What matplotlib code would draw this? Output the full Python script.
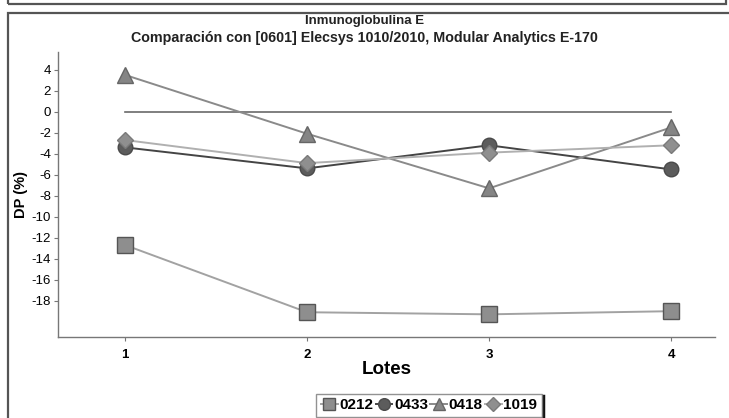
import numpy as np
import matplotlib.pyplot as plt
from matplotlib.lines import Line2D
from matplotlib.patches import Rectangle

plt.rcParams['font.family'] = ['Liberation Sans', 'DejaVu Sans']

lotes = [1, 2, 3, 4]
series_names = ['0212', '0433', '0418', '1019']
dp_0212 = [-12.7, -19.1, -19.3, -19.0]
dp_0433 = [-3.4, -5.4, -3.2, -5.5]
dp_0418 = [3.5, -2.1, -7.3, -1.5]
dp_1019 = [-2.7, -4.9, -3.9, -3.2]
y_ticks = list(range(-18, 5, 2))

styles = {
    '0212': dict(marker='s', markersize=11.5, color='#a2a2a2', markerfacecolor='#8e8e8e', markeredgecolor='#555555'),
    '0433': dict(marker='o', markersize=10.5, color='#444444', markerfacecolor='#5c5c5c', markeredgecolor='#4a4a4a'),
    '0418': dict(marker='^', markersize=11, color='#8a8a8a', markerfacecolor='#858585', markeredgecolor='#666666'),
    '1019': dict(marker='D', markersize=8.5, color='#b0b0b0', markerfacecolor='#8f8f8f', markeredgecolor='#7a7a7a'),
}
values = {'0212': dp_0212, '0433': dp_0433, '0418': dp_0418, '1019': dp_1019}

fig = plt.figure(figsize=(7.29, 4.18), dpi=100)
ax = fig.add_axes([0.0796, 0.194, 0.901, 0.682])

# reference line at zero
ax.plot([lotes[0], lotes[-1]], [0, 0], color='#6a6a6a', linewidth=1.2, zorder=1)

handles = []
for name in series_names:
    st = styles[name]
    h, = ax.plot(lotes, values[name], linewidth=1.4, markeredgewidth=1.0, label=name, zorder=3, **st)
    handles.append(h)

ax.set_xlim(0.632, 4.24)
ax.set_ylim(-21.45, 5.7)
ax.set_xticks(lotes)
ax.set_xticklabels([str(l) for l in lotes], fontweight='bold', fontsize=9.5)
ax.set_yticks(y_ticks)
ax.set_yticklabels([str(t) for t in y_ticks], fontsize=9.5)
ax.tick_params(axis='both', length=3, width=0.8, color='#777777', pad=2)
ax.tick_params(axis='x', pad=6)
for side in ['top', 'right']:
    ax.spines[side].set_visible(False)
for side in ['left', 'bottom']:
    ax.spines[side].set_color('#777777')
    ax.spines[side].set_linewidth(1.0)

ax.set_xlabel('Lotes', fontsize=13.5, fontweight='bold', labelpad=0)
ax.set_ylabel('DP (%)', fontsize=10.5, fontweight='bold', labelpad=2.5)

fig.text(0.5, 0.950, 'Inmunoglobulina E', ha='center', va='center', fontsize=9.5, fontweight='bold', color='#222222')
fig.text(0.5, 0.910, 'Comparación con [0601] Elecsys 1010/2010, Modular Analytics E-170',
         ha='center', va='center', fontsize=10.3, fontweight='bold', color='#222222')

# surrounding frames
fig.add_artist(Rectangle((0.011, -0.05), 1.2, 1.02, transform=fig.transFigure,
                         fill=False, edgecolor='#555555', linewidth=1.6))
fig.add_artist(Rectangle((0.011, 0.99), 0.985, 0.2, transform=fig.transFigure,
                         fill=False, edgecolor='#555555', linewidth=1.6))

leg = fig.legend(handles=handles, loc='upper left', bbox_to_anchor=(0.434, 0.058), ncol=4,
                 frameon=True, fancybox=False, handlelength=1.1, handletextpad=0.1,
                 columnspacing=0.15, borderpad=0.3, borderaxespad=0, markerscale=0.8,
                 prop={'weight': 'bold', 'size': 11})
leg.get_frame().set_edgecolor('#777777')
leg.get_frame().set_linewidth(1.0)

# dark shadow edge on the right side of the legend box
fig.canvas.draw()
bb = leg.get_window_extent().transformed(fig.transFigure.inverted())
fig.add_artist(Line2D([bb.x1 + 0.002, bb.x1 + 0.002], [bb.y0, bb.y1 - 0.005], transform=fig.transFigure,
                      color='#111111', linewidth=2.5))

fig.savefig('out.png', dpi=100)
